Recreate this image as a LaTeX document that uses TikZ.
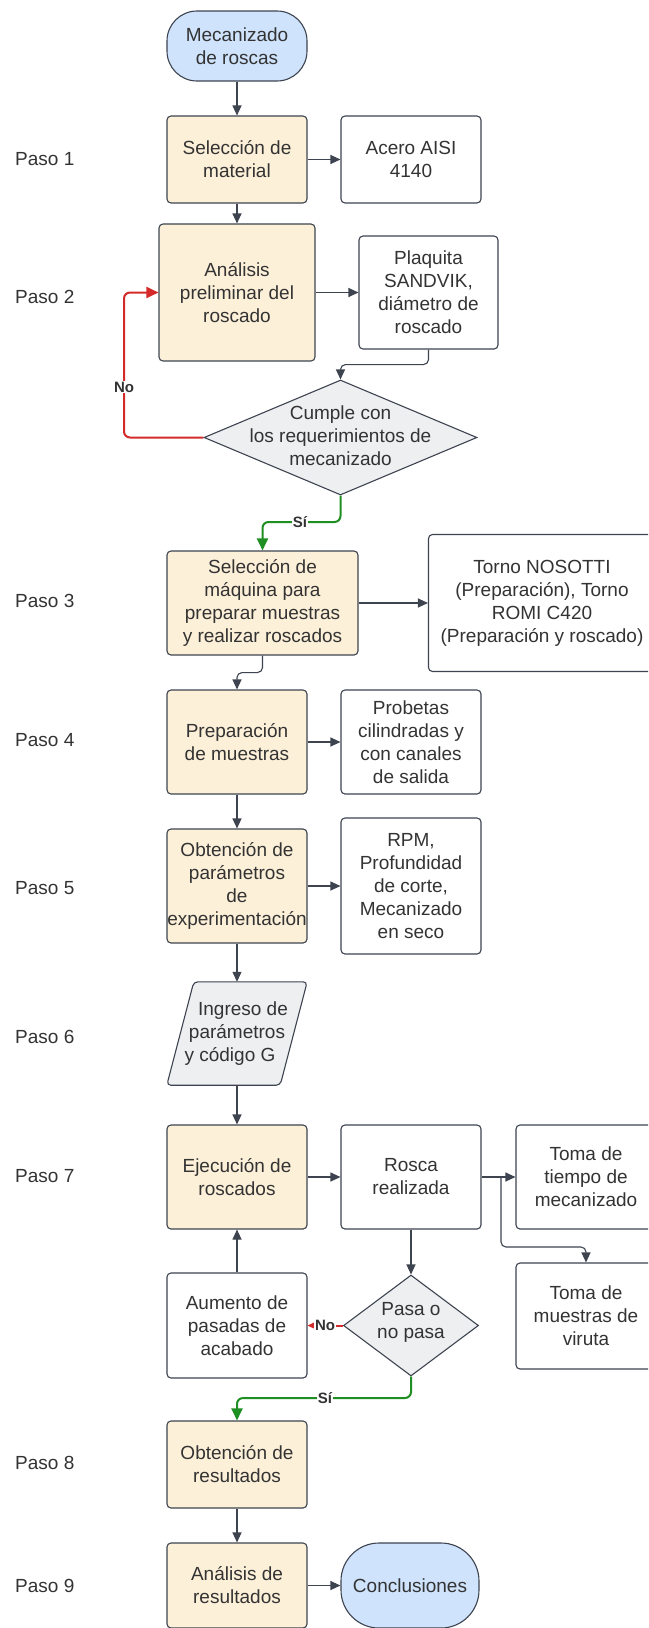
\documentclass[tikz,border=0pt]{standalone}
\usepackage{fontspec}
\setmainfont{Liberation Sans}
\usetikzlibrary{arrows.meta,shapes.geometric,calc,backgrounds}
\definecolor{ln}{HTML}{3D4450}
\definecolor{yel}{HTML}{FDF0D9}
\definecolor{blu}{HTML}{CFE3FC}
\definecolor{gry}{HTML}{EEEFF1}
\definecolor{txt}{HTML}{333333}
\definecolor{rd}{HTML}{D42A2A}
\definecolor{gn}{HTML}{1F8E23}
\begin{document}
\begin{tikzpicture}[x=1pt,y=-1pt,
  every node/.style={font=\fontsize{19}{23}\selectfont, text=txt},
  base/.style={draw=ln, line width=1.1pt, rounded corners=4pt, align=center, inner sep=0pt},
  ybox/.style={base, fill=yel},
  wbox/.style={base, fill=white},
  term/.style={base, fill=blu, rounded corners=30pt},
  dshape/.style={diamond, draw=ln, line width=1.1pt, fill=gry, inner sep=0pt},
  pshape/.style={draw=ln, line width=1.1pt, rounded corners=4pt, fill=gry},
  tx/.style={align=center, inner sep=0pt},
  paso/.style={anchor=west, inner sep=0pt},
  conn/.style={draw=ln, line width=1.1pt, rounded corners=5pt, -{Triangle[length=10pt,width=9pt]}},
  nol/.style={draw=rd, line width=2pt, rounded corners=6pt, -{Triangle[length=12pt,width=11pt]}},
  sil/.style={draw=gn, line width=2pt, rounded corners=6pt, -{Triangle[length=12pt,width=11pt]}},
  lbl/.style={font=\fontsize{15}{17}\selectfont\bfseries, fill=white, inner sep=1pt, text=txt},
]
\useasboundingbox (0,0) rectangle (648,1628);
\clip (0,0) rectangle (648,1628);

% nodes
\node[term, minimum width=140pt, minimum height=70pt] (t0) at (237,46) {Mecanizado\\de roscas};
\node[ybox, minimum width=140pt, minimum height=87pt] (s1) at (237,159.5) {Selección de\\material};
\node[wbox, minimum width=140pt, minimum height=87pt] (a1) at (411,159.5) {Acero AISI\\4140};
\node[ybox, minimum width=156pt, minimum height=137pt] (s2) at (237,292.5) {Análisis\\preliminar del\\roscado};
\node[wbox, minimum width=139pt, minimum height=113pt] (p2) at (428.5,292.5) {Plaquita\\SANDVIK,\\diámetro de\\roscado};
\node[dshape, minimum width=273pt, minimum height=115pt] (d1) at (340.5,437.5) {};
\node[tx] (d1t) at (340.5,436) {Cumple con\\los requerimientos de\\mecanizado};
\node[ybox, minimum width=191pt, minimum height=104pt] (s3) at (262.5,603) {Selección de\\máquina para\\preparar muestras\\y realizar roscados};
\node[wbox, minimum width=227pt, minimum height=137pt] (t3) at (542,603) {Torno NOSOTTI\\(Preparación), Torno\\ROMI C420\\(Preparación y roscado)};
\node[ybox, minimum width=140pt, minimum height=104pt] (s4) at (237,742) {Preparación\\de muestras};
\node[wbox, minimum width=140pt, minimum height=104pt] (pr) at (411,742) {Probetas\\cilindradas y\\con canales\\de salida};
\node[ybox, minimum width=140pt, minimum height=114pt] (s5) at (237,886) {Obtención de\\parámetros\\de\\experimentación};
\node[wbox, minimum width=140pt, minimum height=136pt] (rpm) at (411,886) {RPM,\\Profundidad\\de corte,\\Mecanizado\\en seco};
\node[tx, minimum width=140pt, minimum height=103pt] (p6) at (237,1033.5) {\hspace*{12pt}Ingreso de\\parámetros\\y código G\hspace*{14pt}};
\begin{scope}[on background layer]
\fill[white] (0,0) rectangle (648,1628);
\draw[pshape] ($(p6.north west)+(27,0)$) -- (p6.north east) -- ($(p6.south east)+(-27,0)$) -- (p6.south west) -- cycle;
\end{scope}
\node[ybox, minimum width=140pt, minimum height=104pt] (s7) at (237,1177) {Ejecución de\\roscados};
\node[wbox, minimum width=140pt, minimum height=104pt] (rr) at (411,1177) {Rosca\\realizada};
\node[wbox, minimum width=140pt, minimum height=104pt] (tt) at (586,1177) {Toma de\\tiempo de\\mecanizado};
\node[wbox, minimum width=140pt, minimum height=106pt] (tm) at (586,1316) {Toma de\\muestras de\\viruta};
\node[dshape, minimum width=135pt, minimum height=101pt] (d2) at (411,1325.5) {};
\node[tx] (d2t) at (411,1322.5) {Pasa o\\no pasa};
\node[wbox, minimum width=140pt, minimum height=105pt] (au) at (237,1325.5) {Aumento de\\pasadas de\\acabado};
\node[ybox, minimum width=140pt, minimum height=87pt] (s8) at (237,1464.5) {Obtención de\\resultados};
\node[ybox, minimum width=140pt, minimum height=85pt] (s9) at (237,1585.5) {Análisis de\\resultados};
\node[term, rounded corners=38pt, minimum width=138pt, minimum height=85pt] (cc) at (410,1585.5) {Conclusiones};

% paso labels
\node[paso] (l1) at (15,159) {Paso 1};
\node[paso] (l2) at (15,297) {Paso 2};
\node[paso] (l3) at (15,601) {Paso 3};
\node[paso] (l4) at (15,740) {Paso 4};
\node[paso] (l5) at (15,888) {Paso 5};
\node[paso] (l6) at (15,1037) {Paso 6};
\node[paso] (l7) at (15,1176) {Paso 7};
\node[paso] (l8) at (15,1463) {Paso 8};
\node[paso] (l9) at (15,1586) {Paso 9};

% connectors
\draw[conn] (t0.south) -- (s1.north);
\draw[conn] (s1.east) -- (a1.west);
\draw[conn] (s1.south) -- (s2.north);
\draw[conn] (s2.east) -- (p2.west);
\draw[conn] (p2.south) -- ++(0,15) -| (d1.north);
\coordinate (r1) at (124,437.5);
\coordinate (r2) at (124,292.5);
\draw[nol] (d1.west) -- (r1) -- (r2) -- (s2.west);
\coordinate (g1) at (340.5,522);
\draw[sil] (d1.south) -- (g1) -| (s3.north);
\draw[conn] (s3.east) -- (t3.west);
\draw[conn] (s3.south) -- ++(0,17) -| (s4.north);
\draw[conn] (s4.east) -- (pr.west);
\draw[conn] (s4.south) -- (s5.north);
\draw[conn] (s5.east) -- (rpm.west);
\draw[conn] (s5.south) -- (p6.north);
\draw[conn] (p6.south) -- (s7.north);
\draw[conn] (s7.east) -- (rr.west);
\draw[conn] (rr.east) -- (tt.west);
\coordinate (b0) at (501,1177);
\draw[conn] (b0) -- ++(0,70) -| (tm.north);
\draw[conn] (rr.south) -- (d2.north);
\draw[nol] (d2.west) -- (au.east);
\draw[conn] (au.north) -- (s7.south);
\coordinate (g2) at (411,1398);
\draw[sil] (d2.south) -- (g2) -| (s8.north);
\draw[conn] (s8.south) -- (s9.north);
\draw[conn] (s9.east) -- (cc.west);

% edge labels
\node[lbl] (ln1) at (124,387) {No};
\node[lbl] (ls1) at (300,522) {Sí};
\node[lbl] (ln2) at (325,1325.5) {No};
\node[lbl] (ls2) at (325,1398) {Sí};
\end{tikzpicture}
\end{document}
